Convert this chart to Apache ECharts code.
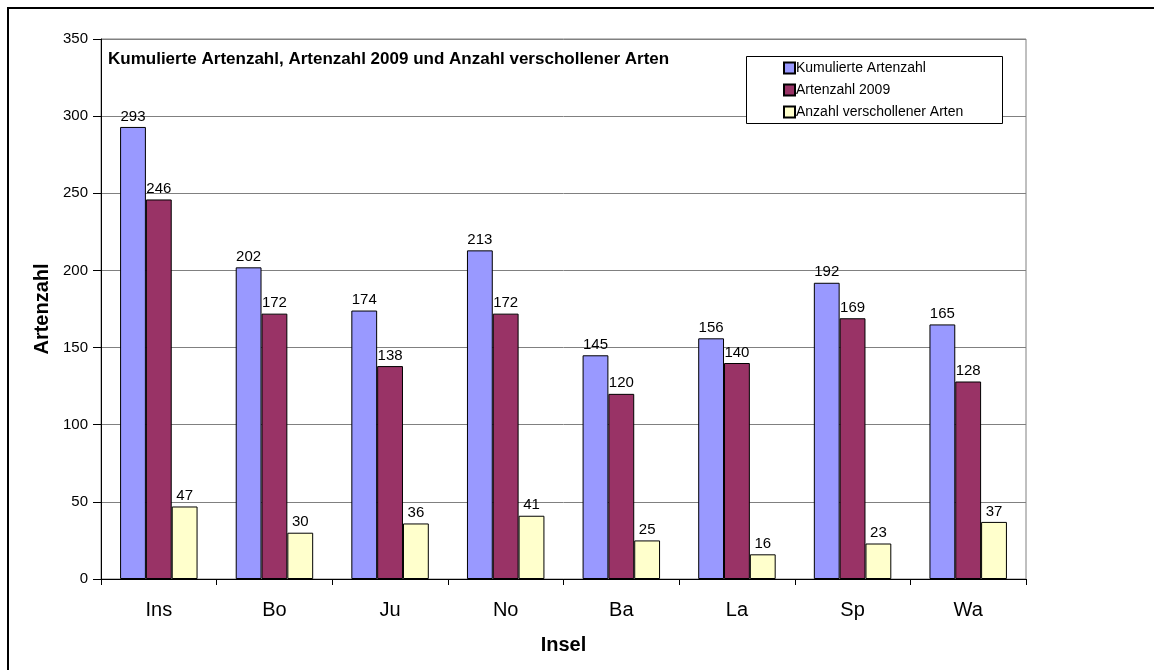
<!DOCTYPE html>
<html>
<head>
<meta charset="utf-8">
<script src="https://cdn.jsdelivr.net/npm/echarts@6/dist/echarts.min.js"></script>
<style>
  html, body { margin: 0; padding: 0; background: #fff; }
  #chart { width: 1154px; height: 670px; }
</style>
</head>
<body>
<div id="chart"></div>
<script>
const categories = ["Ins", "Bo", "Ju", "No", "Ba", "La", "Sp", "Wa"];
const kumuliert = [293, 202, 174, 213, 145, 156, 192, 165];
const arten2009 = [246, 172, 138, 172, 120, 140, 169, 128];
const verschollen = [47, 30, 36, 41, 25, 16, 23, 37];
const seriesNames = ["Kumulierte Artenzahl", "Artenzahl 2009", "Anzahl verschollener Arten"];
const colors = ["#9999FF", "#993366", "#FFFFCC"];

const font = "Liberation Sans, Arial, sans-serif";
const chart = echarts.init(document.getElementById("chart"));

function barSeries(name, data, color) {
  return {
    name: name,
    type: "bar",
    data: data,
    barGap: "0%",
    barCategoryGap: "33%",
    itemStyle: { color: color, borderColor: "#000", borderWidth: 1 },
    label: {
      show: true,
      position: "top",
      distance: 3,
      color: "#000",
      fontFamily: font,
      fontSize: 15
    }
  };
}

chart.setOption({
  animation: false,
  textStyle: { fontFamily: font },
  grid: {
    left: 101, right: 128, top: 39, bottom: 91,
    show: true, borderColor: "#808080", borderWidth: 1
  },
  graphic: [
    {
      type: "rect",
      shape: { x: 8, y: 8, width: 1200, height: 700 },
      style: { fill: "none", stroke: "#000", lineWidth: 2 },
      z: 0
    },
    {
      type: "rect",
      shape: { x: 746.5, y: 56.5, width: 256, height: 67 },
      style: { fill: "#fff", stroke: "#000", lineWidth: 1 },
      z: 5
    },
    {
      type: "text",
      left: 108, top: 51,
      style: {
        text: "Kumulierte Artenzahl, Artenzahl 2009 und Anzahl verschollener Arten",
        font: "bold 17px " + font,
        fill: "#000"
      },
      z: 5
    }
  ],
  legend: {
    orient: "vertical",
    left: 783, top: 61,
    padding: 0,
    itemWidth: 11, itemHeight: 11,
    itemGap: 8,
    icon: "rect",
    textStyle: { fontSize: 14, color: "#000", fontFamily: font, padding: [0, 0, 0, -4] },
    z: 6
  },
  xAxis: {
    type: "category",
    data: categories,
    name: "Insel",
    nameLocation: "middle",
    nameGap: 56,
    nameTextStyle: { fontSize: 20, fontWeight: "bold", color: "#000" },
    axisLine: { lineStyle: { color: "#000" } },
    axisTick: { show: true, length: 6, lineStyle: { color: "#000" } },
    axisLabel: { fontSize: 20, color: "#000", margin: 21 }
  },
  yAxis: {
    type: "value",
    min: 0, max: 350, interval: 50,
    name: "Artenzahl",
    nameLocation: "middle",
    nameRotate: 90,
    nameGap: 46,
    nameTextStyle: { fontSize: 20, fontWeight: "bold", color: "#000" },
    axisLine: { show: true, lineStyle: { color: "#000" } },
    axisTick: { show: true, length: 8, lineStyle: { color: "#000" } },
    axisLabel: { fontSize: 15, color: "#000", margin: 13 },
    splitLine: { lineStyle: { color: "#808080" } }
  },
  series: [
    barSeries(seriesNames[0], kumuliert, colors[0]),
    barSeries(seriesNames[1], arten2009, colors[1]),
    barSeries(seriesNames[2], verschollen, colors[2])
  ]
});
</script>
</body>
</html>
